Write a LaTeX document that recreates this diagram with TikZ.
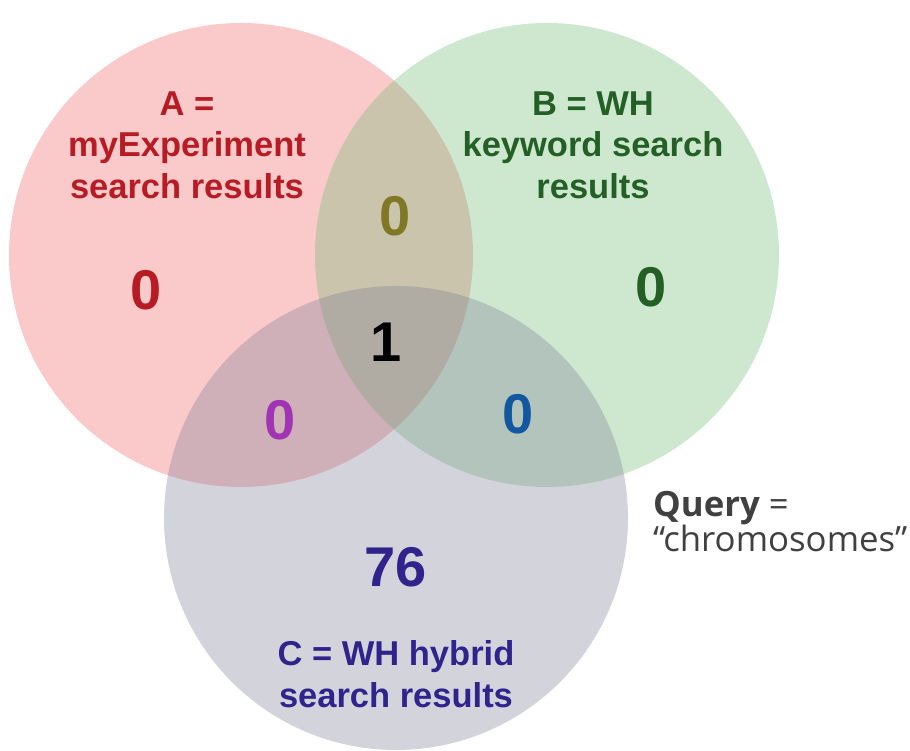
\documentclass[tikz,border=0pt]{standalone}
\usepackage{fontspec}
\setmainfont{Liberation Sans}
\newfontfamily\queryfont{Open Sans}

\definecolor{setAfill}{RGB}{240,100,100}
\definecolor{setBfill}{RGB}{112,189,118}
\definecolor{setCfill}{RGB}{129,129,152}
\definecolor{txtA}{RGB}{183,28,36}
\definecolor{txtB}{RGB}{36,96,38}
\definecolor{txtC}{RGB}{48,36,140}
\definecolor{txtAB}{RGB}{128,120,36}
\definecolor{txtAC}{RGB}{160,52,180}
\definecolor{txtBC}{RGB}{18,88,160}
\definecolor{txtQ}{RGB}{64,64,64}

\tikzstyle{set}=[circle,minimum size=464pt,inner sep=0pt,fill opacity=0.35]
\tikzstyle{lbl}=[align=center,inner sep=0pt,anchor=north,font=\fontsize{34.5}{41.5}\selectfont\bfseries]
\tikzstyle{cnt}=[inner sep=0pt,font=\fontsize{56}{60}\selectfont\bfseries]
\tikzstyle{qry}=[inner sep=0pt,anchor=base west,text=txtQ,font=\fontsize{34.8}{40}\selectfont\queryfont]

\begin{document}
\begin{tikzpicture}[x=1pt,y=1pt]
  \useasboundingbox (0,0) rectangle (910,751);

  \node[set,fill=setAfill] (A) at (241,496) {};
  \node[set,fill=setBfill] (B) at (547,496) {};
  \node[set,fill=setCfill] (C) at (396,233) {};

  \node[lbl,text=txtA] (labA) at (187,659.5) {A =\\myExperiment\\search results};
  \node[lbl,text=txtB] (labB) at (593,659.5) {B = WH\\keyword search\\results};
  \node[lbl,text=txtC] (labC) at (396,110.5) {C = WH hybrid\\search results};

  \node[cnt,text=txtA] (nA) at (146,461) {0};
  \node[cnt,text=txtB] (nB) at (651,464) {0};
  \node[cnt,text=txtC] (nC) at (396,183.5) {76};
  \node[cnt,text=txtAB] (nAB) at (395,535) {0};
  \node[cnt,text=txtAC] (nAC) at (280,331) {0};
  \node[cnt,text=txtBC] (nBC) at (518,337) {0};
  \node[cnt,text=black] (nABC) at (386,408.5) {1};

  \node[qry] (query) at (653,234) {\textbf{Query} =};
  \node[qry] (term) at (653,199) {“chromosomes”};
\end{tikzpicture}
\end{document}
